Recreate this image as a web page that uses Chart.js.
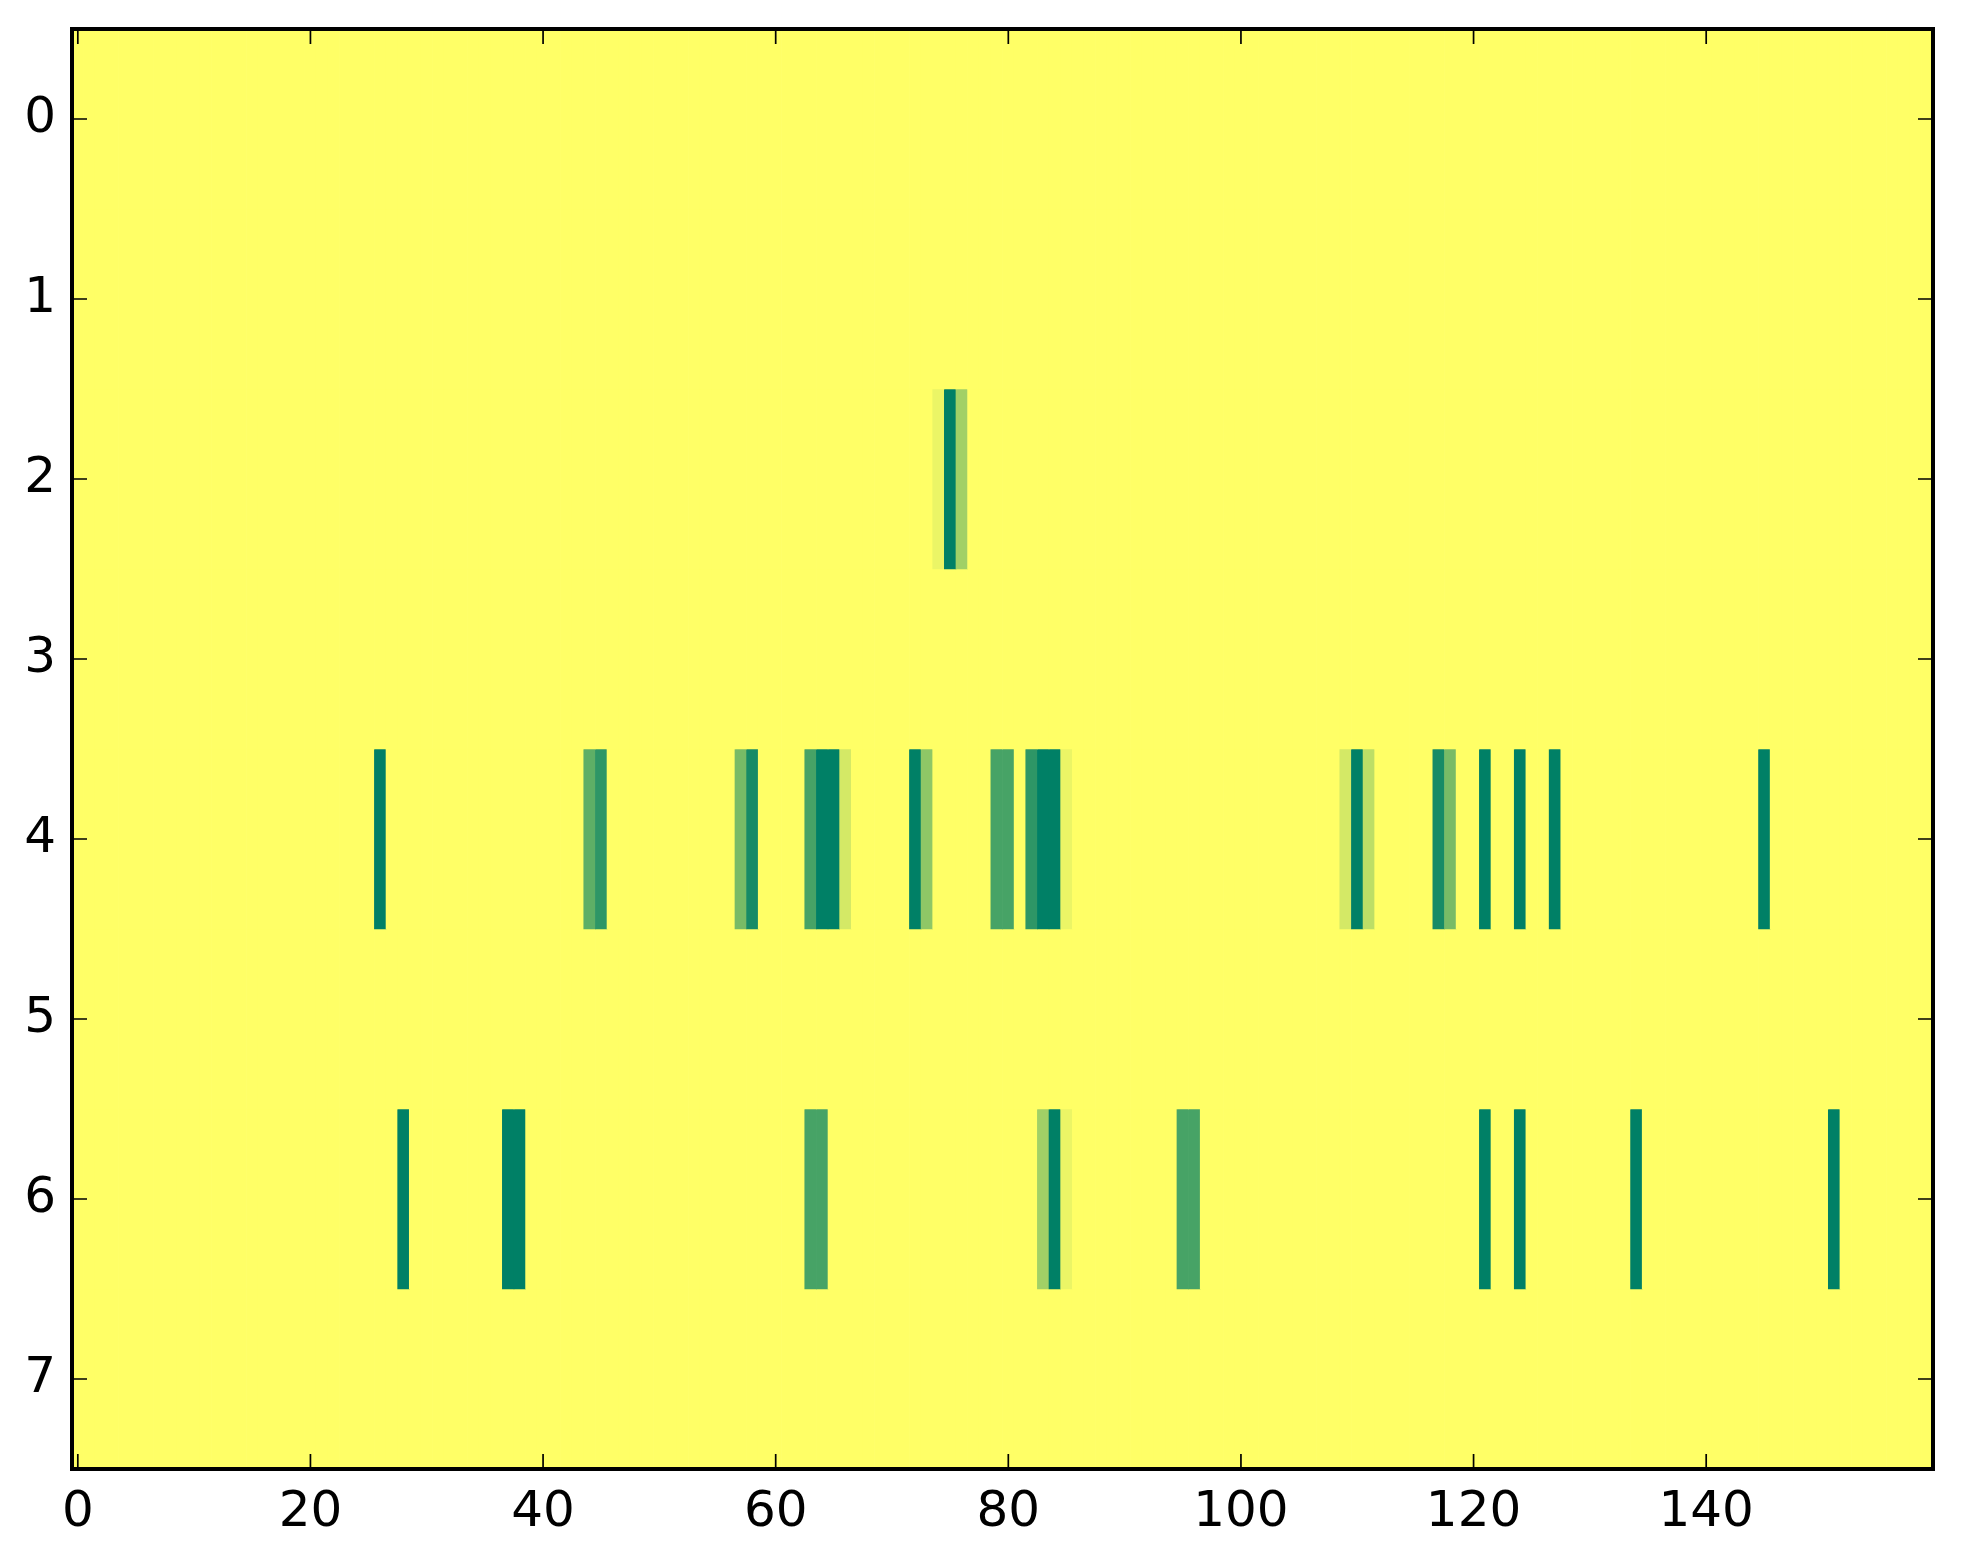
<!DOCTYPE html>
<html>
<head>
<meta charset="utf-8">
<script src="https://cdn.jsdelivr.net/npm/chart.js@4.4.1/dist/chart.umd.min.js"></script>
<style>
    html, body { margin: 0; padding: 0; background: #ffffff; }
    #wrap { width: 1963px; height: 1564px; position: relative; }
</style>
</head>
<body>
<div id="wrap"><canvas id="heatmap"></canvas></div>
<script>
// grid size and tick labels
const nCols = 160;
const nRows = 8;
const xTicks = [0, 20, 40, 60, 80, 100, 120, 140];
const yTicks = [0, 1, 2, 3, 4, 5, 6, 7];

// non-zero cells of each row (column index, value); every other cell is 0
const row2Cols = [74, 75, 76];
const row2Vals = [0.08, 1.0, 0.37];

const row4Cols = [26, 44, 45, 57, 58, 63, 64, 65, 66, 72, 73, 79, 80, 82, 83, 84, 85,
                  109, 110, 111, 117, 118, 121, 124, 127, 145];
const row4Vals = [1.0, 0.63, 0.82, 0.53, 0.91, 0.72, 1.0, 1.0, 0.17, 1.0, 0.44, 0.72, 0.72, 0.82, 1.0, 1.0, 0.08,
                  0.17, 1.0, 0.26, 0.91, 0.53, 1.0, 1.0, 1.0, 1.0];

const row6Cols = [28, 37, 38, 63, 64, 83, 84, 85, 95, 96, 121, 124, 134, 151];
const row6Vals = [1.0, 1.0, 1.0, 0.72, 0.72, 0.37, 1.0, 0.08, 0.72, 0.72, 1.0, 1.0, 1.0, 1.0];

const sparseRows = {
    2: [row2Cols, row2Vals],
    4: [row4Cols, row4Vals],
    6: [row6Cols, row6Vals]
};

// matplotlib "summer_r": 0 -> yellow, 1 -> green
function summerR(t) {
    const s = 1 - Math.max(0, Math.min(1, t));
    const r = Math.round(255 * s);
    const g = Math.round(255 * (0.5 + s / 2));
    return `rgb(${r},${g},102)`;
}

// build the full grid from the sparse rows
const grid = [];
for (let r = 0; r < nRows; r++) {
    const row = new Array(nCols).fill(0);
    if (sparseRows[r]) {
        const [cols, vals] = sparseRows[r];
        cols.forEach((c, i) => { row[c] = vals[i]; });
    }
    grid.push(row);
}
const vmax = Math.max(...grid.flat());

const datasets = grid.map((row, r) => ({
    label: 'row ' + r,
    data: row.map((v, c) => ({ x: c, y: [r - 0.5, r + 0.5] })),
    backgroundColor: row.map(v => summerR(v / vmax)),
    borderWidth: 0,
    barPercentage: 1.0,
    categoryPercentage: 1.0,
    grouped: false
}));

// inward ticks on all four sides plus the black frame
const frameTicks = {
    id: 'frameTicks',
    afterDatasetsDraw(chart) {
        const { ctx, chartArea: a, scales: { x, y } } = chart;
        const len = 15;
        ctx.save();
        ctx.strokeStyle = '#000';
        ctx.lineWidth = 1.7;
        ctx.beginPath();
        xTicks.forEach(v => {
            const px = x.getPixelForValue(v);
            ctx.moveTo(px, a.bottom); ctx.lineTo(px, a.bottom - len);
            ctx.moveTo(px, a.top); ctx.lineTo(px, a.top + len);
        });
        yTicks.forEach(v => {
            const py = y.getPixelForValue(v);
            ctx.moveTo(a.left, py); ctx.lineTo(a.left + len, py);
            ctx.moveTo(a.right, py); ctx.lineTo(a.right - len, py);
        });
        ctx.stroke();
        ctx.lineWidth = 4;
        ctx.strokeRect(a.left, a.top, a.right - a.left, a.bottom - a.top);
        ctx.restore();
    }
};

const tickFont = { family: 'DejaVu Sans', size: 50 };

new Chart(document.getElementById('heatmap').getContext('2d'), {
    type: 'bar',
    data: { datasets: datasets },
    options: {
        responsive: true,
        maintainAspectRatio: false,
        animation: false,
        events: [],
        layout: { padding: { left: 0, top: 29, right: 30, bottom: 0 } },
        plugins: {
            legend: { display: false },
            tooltip: { enabled: false }
        },
        scales: {
            x: {
                type: 'linear',
                min: -0.5,
                max: nCols - 0.5,
                offset: false,
                grid: { display: false, drawTicks: false },
                border: { display: false },
                ticks: { font: tickFont, color: '#000', padding: 14, maxRotation: 0 },
                afterBuildTicks: axis => { axis.ticks = xTicks.map(v => ({ value: v })); },
                afterFit: axis => {
                    axis.height = 95;
                    axis.paddingLeft = 0;
                    axis.paddingRight = 0;
                }
            },
            y: {
                type: 'linear',
                reverse: true,
                min: -0.5,
                max: nRows - 0.5,
                grid: { display: false, drawTicks: false },
                border: { display: false },
                ticks: { font: tickFont, color: '#000', padding: 16 },
                afterBuildTicks: axis => { axis.ticks = yTicks.map(v => ({ value: v })); },
                afterFit: axis => {
                    axis.width = 72;
                    axis.paddingTop = 0;
                    axis.paddingBottom = 0;
                }
            }
        }
    },
    plugins: [frameTicks]
});
</script>
</body>
</html>
